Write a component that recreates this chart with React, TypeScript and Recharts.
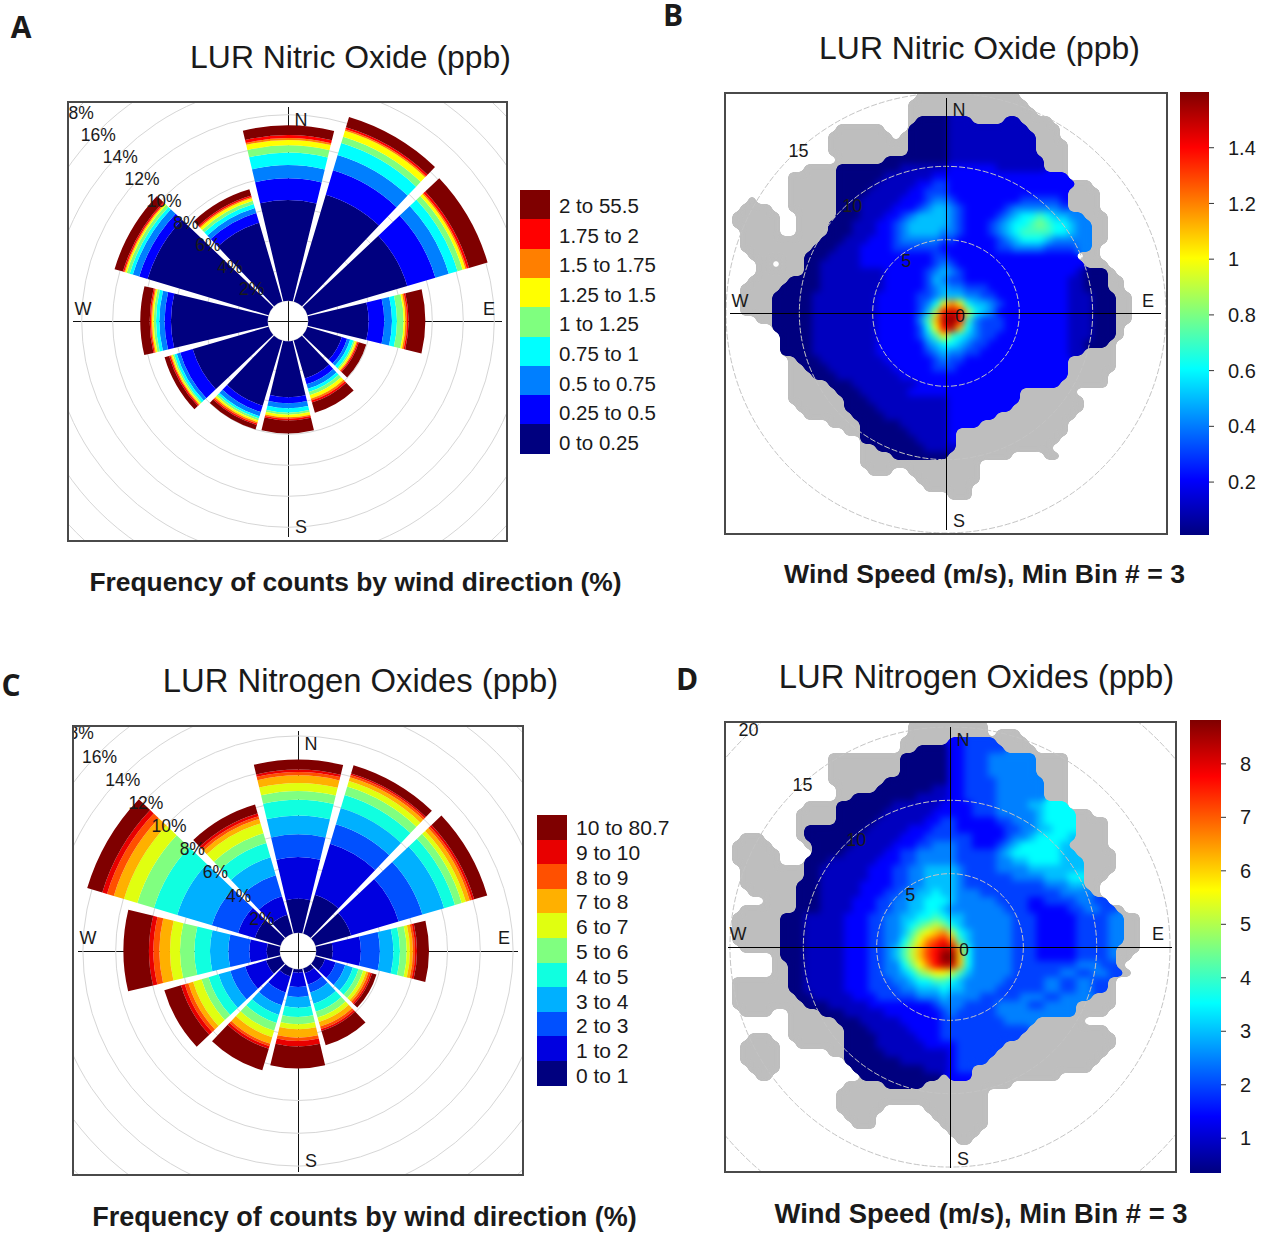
import React from 'react';
import {
  RadialBarChart, RadialBar, PolarAngleAxis, PolarRadiusAxis, PolarGrid,
  ScatterChart, Scatter, XAxis, YAxis, RadarChart, Radar, BarChart, Bar,
} from 'recharts';

const FONT = '"Liberation Sans", Arial, sans-serif';

const directions = ['N', 'NNE', 'ENE', 'E', 'ESE', 'SSE', 'S', 'SSW', 'WSW', 'W', 'WNW', 'NNW'];

// cumulative frequency (%) at the top of each concentration band, per direction
const noFreq = [
  [6.49, 7.89, 8.75, 9.55, 10.02, 10.37, 10.49, 10.69, 11.31],
  [7.2, 8.84, 9.87, 10.67, 11.1, 11.5, 11.6, 11.74, 12.43],
  [6.71, 8.6, 9.5, 10.09, 10.43, 10.62, 10.71, 10.86, 12.11],
  [3.89, 4.9, 5.4, 5.72, 6.15, 6.26, 6.37, 6.47, 7.55],
  [2.32, 2.67, 2.88, 3.1, 3.2, 3.31, 3.38, 3.46, 3.96],
  [2.56, 2.95, 3.25, 3.46, 3.68, 3.91, 4.04, 4.17, 4.86],
  [3.61, 4.0, 4.32, 4.6, 4.73, 4.9, 4.99, 5.1, 5.94],
  [4.39, 4.82, 5.1, 5.25, 5.38, 5.5, 5.6, 5.7, 6.0],
  [5.1, 5.94, 6.17, 6.34, 6.45, 6.54, 6.6, 6.69, 6.99],
  [6.24, 6.65, 6.99, 7.2, 7.35, 7.46, 7.53, 7.61, 8.22],
  [8.15, 8.71, 9.14, 9.35, 9.55, 9.66, 9.72, 9.81, 10.37],
  [5.29, 5.96, 6.28, 6.56, 6.77, 6.95, 7.03, 7.12, 7.55],
];
const noBands = ['0 to 0.25', '0.25 to 0.5', '0.5 to 0.75', '0.75 to 1', '1 to 1.25', '1.25 to 1.5', '1.5 to 1.75', '1.75 to 2', '2 to 55.5'];
const noColours = ['#00007F', '#0000FF', '#007FFF', '#00FFFF', '#7FFF7F', '#FFFF00', '#FF7F00', '#FF0000', '#7F0000'];

const noxFreq = [
  [2.07, 4.61, 6.0, 7.15, 8.11, 8.64, 9.13, 9.59, 9.8, 9.94, 10.55],
  [2.46, 5.71, 6.95, 7.99, 8.82, 9.35, 9.7, 9.94, 10.08, 10.18, 10.71],
  [2.26, 5.28, 6.79, 8.17, 8.86, 9.29, 9.55, 9.8, 9.94, 10.08, 10.91],
  [1.0, 2.72, 3.88, 4.7, 5.1, 5.51, 5.71, 5.89, 6.02, 6.14, 6.87],
  [0.61, 1.28, 1.89, 2.38, 2.74, 3.03, 3.23, 3.37, 3.5, 3.6, 3.88],
  [0.3, 1.02, 1.52, 2.24, 2.74, 3.11, 3.39, 3.68, 3.84, 3.96, 4.88],
  [0.2, 1.08, 1.69, 2.34, 2.91, 3.35, 3.66, 4.17, 4.37, 4.7, 6.05],
  [0.51, 1.52, 2.34, 2.95, 3.46, 3.96, 4.37, 4.78, 4.94, 5.1, 6.48],
  [0.91, 2.24, 3.19, 3.94, 4.57, 5.02, 5.55, 5.85, 6.08, 6.32, 7.38],
  [0.79, 1.85, 3.13, 4.25, 5.2, 6.08, 6.69, 7.34, 7.7, 7.97, 9.53],
  [1.63, 2.7, 4.37, 6.57, 8.05, 9.11, 9.96, 10.61, 11.04, 11.34, 12.3],
  [1.18, 2.36, 3.7, 4.84, 5.75, 6.36, 6.99, 7.28, 7.44, 7.62, 8.19],
];
const noxBands = ['0 to 1', '1 to 2', '2 to 3', '3 to 4', '4 to 5', '5 to 6', '6 to 7', '7 to 8', '8 to 9', '9 to 10', '10 to 80.7'];
const noxColours = ['#00007F', '#0000E0', '#0050FF', '#00B0FF', '#10FFE0', '#80FF80', '#E0FF10', '#FFB000', '#FF5000', '#E80000', '#7F0000'];

// polar plot levels, one run-length row per 8px of plot: '.' no data, '#' too few counts, a-q = rising concentration
const jetLevels = ['#00007F', '#0000BF', '#0000FF', '#0040FF', '#0080FF', '#00BFFF', '#00FFFF', '#40FFBF', '#7FFF7F', '#BFFF40', '#FFFF00', '#FFBF00', '#FF7F00', '#FF4000', '#FF0000', '#BF0000', '#7F0000'];
const jetStops = ['#7F0000', '#FF0000', '#FF7F00', '#FFFF00', '#7FFF7F', '#00FFFF', '#007FFF', '#0000FF', '#00007F'];

const noGrid = [
  '24. 13#', '23. 15#', '23. 16#',
  '23. 1# 4a 3b 4# 2b 4#',
  '14. 6# 3. 5a 10b 4#',
  '13. 8# 1. 1# 5a 11b 3#',
  '13. 10# 5a 11b 4#',
  '13. 10# 5a 11b 4#',
  '14. 6# 8a 12b 3#',
  '10. 4# 8a 6b 6c 6b 3#',
  '8. 6# 6a 6b 17c',
  '8. 6# 5a 5b 2c 2d 16c 2#',
  '8. 6# 4a 5b 2c 3d 15c 4#',
  '3. 1# 4. 6# 3a 5b 3c 1d 2e 1d 8c 5d 1c 4#',
  '2. 4# 2. 6# 3a 4b 3c 1d 1e 2f 1e 1d 5c 1d 6e 1d 4#',
  '1. 6# 2. 5# 3a 3b 2c 1d 1e 1f 2f 1f 1e 1d 4c 1d 1e 1f 1g 1g 1h 1g 1f 1f 1e 1e 3#',
  '1. 6# 2. 4# 3a 3b 2c 1d 1e 5f 1e 1d 3c 1d 1e 1f 1g 1g 1h 1i 1h 1g 1g 1f 1e 1e 2#',
  '2. 5# 2. 4# 3a 3b 2c 1d 1e 4f 1e 1e 1d 3c 1d 1e 1f 1g 4h 1g 1g 1f 1e 1e 2#',
  '2. 10# 3a 3b 3c 1d 5e 2d 1c 4c 1d 1e 1f 1g 2g 1f 5e 2#',
  '2. 9# 3a 3b 4c 6d 2c 5c 2d 4e 2d 2d 2e 1#',
  '3. 7# 3a 4b 9c 2d 1c 15c 1. 2#',
  '4. 2# 1. 3# 2a 5b 9c 1d 1e 1d 16c 3#',
  '4. 6# 2a 8b 5c 1d 1e 1f 1e 1d 14c 1b 3a 1#',
  '3. 5# 4a 8b 5c 1d 1f 1e 2d 13c 2b 3a 2#',
  '2. 5# 5a 8b 5c 1d 1e 1f 2e 3d 10c 2b 3a 2#',
  '2. 4# 5a 8b 5c 2d 1e 3f 2e 2d 9c 3b 3a 2#',
  '2. 4# 5a 8b 5c 1d 1e 1g 1k 1m 1k 1g 2f 1e 1d 8c 3b 3a 2#',
  '2. 4# 5a 8b 5c 1d 1f 1j 1o 1p 1o 1j 1g 1f 1e 9c 3b 3a 2#',
  '4. 2# 5a 8b 5c 1e 1h 1l 1p 1q 1o 1h 1e 3d 8c 3b 3a 2#',
  '6. 5a 8b 5c 1d 1g 1k 1o 1p 1l 1g 1e 3d 8c 3b 3a 1#',
  '7. 4a 8b 5c 1d 1f 1h 1k 1h 1g 1f 1e 2d 9c 3b 3a 1#',
  '7. 4a 8b 5c 1c 1e 1f 1g 1g 1f 1e 2d 10c 2b 3a 1#',
  '7. 4a 8b 6c 1d 1e 1f 2e 2d 11c 2b 4#',
  '8. 1# 3a 8b 6c 1d 1e 2d 13c 6#',
  '8. 2# 3a 8b 5c 3d 14c 6#',
  '8. 3# 3a 8b 21c 5#',
  '8. 5# 3a 8b 18c 6#',
  '8. 6# 3a 6b 14c 7#',
  '8. 7# 3a 10b 9c 8#',
  '9. 6# 4a 9b 8c 9#',
  '10. 6# 4a 8b 6c 10#',
  '13. 4# 5a 6b 4c 11#',
  '15. 2# 6a 5b 1c 14#',
  '17. 7a 4b 1c 13#',
  '17. 2# 6a 4b 12#',
  '17. 4# 7a 8# 4. 2#',
  '17. 15#',
  '18. 3# 2. 9#',
  '24. 8#',
  '25. 6#',
  '28. 3#',
];

const noxGrid = [
  '23. 10#',
  '23. 10# 1. 3#',
  '22. 6# 2c 4d 4#',
  '22. 2# 4a 2c 5d 4#',
  '13. 9# 6a 2c 3d 6e 4#',
  '13. 9# 6a 2c 3d 6e 4#',
  '13. 9# 6a 2c 3d 6e 4#',
  '13. 7# 8a 2c 4d 6e 3#',
  '14. 5# 7a 2b 2c 4d 6e 3#',
  '14. 2# 8a 4b 2c 4d 6e 3#',
  '10. 4# 7a 6b 4c 3d 4e 2f 3g',
  '9. 5# 6a 6b 5c 3d 5e 1f 4g 2#',
  '9. 5# 5a 6b 2c 2d 5c 2d 3e 1f 4g 4#',
  '9. 1# 8a 5b 3c 3d 6c 2d 2e 2f 3g 4#',
  '2. 3# 4. 1# 7a 5b 3c 6d 4c 1d 2e 1f 4g 1f 4#',
  '1. 5# 4. 1# 5a 5b 3c 2d 3e 2d 3c 1d 1e 1f 5g 1f 5#',
  '1. 6# 4. 4a 5b 2c 2d 5e 5d 1e 1f 6g 2f 5#',
  '1. 6# 3. 3a 6b 3c 2d 5e 5d 2e 2f 4g 3f 4#',
  '2. 8# 2a 6b 3c 2d 2e 4f 1e 4d 4e 4f 3f 4#',
  '2. 8# 2a 6b 3c 2d 2e 4f 1e 6d 4e 3f 2g 3#',
  '2. 7# 3a 5b 4c 2d 2e 4f 1e 10d 3e 2f 2#',
  '3. 6# 3a 5b 3c 2d 2e 2f 1g 2f 3e 10d 2e 2e 1#',
  '5. 4# 3a 4b 3c 2d 2e 2f 3g 1f 5e 4d 2c 4d 2e 2d',
  '2. 7# 3a 4b 3c 2d 2e 2f 2g 1f 7e 3d 5c 2d 2e 2d 1#',
  '1. 6# 3a 5b 3c 2d 2e 2f 2g 1h 1g 2f 6e 3d 5c 4d 2e 2#',
  '1. 6# 3a 5b 3c 2d 2e 1f 1g 1h 1i 1j 1i 1g 1f 6e 3d 5c 4d 2e 2#',
  '1. 6# 3a 5b 3c 2d 2e 1f 1h 1j 1k 1l 1m 1j 1g 1f 5e 3d 5c 4d 2e 2#',
  '1. 6# 3a 5b 3c 2d 2e 1g 1i 1k 1m 1n 1o 1m 1h 1f 5e 3d 5c 4d 2e 2#',
  '2. 5# 3a 5b 3c 2d 1e 1f 1h 1j 1l 1n 1o 1p 1p 1l 1g 5e 3d 5c 4d 1e 3#',
  '6. 1# 3a 5b 3c 2d 1e 1f 1h 1j 1l 1n 1o 1q 1q 1l 1g 5e 3d 5c 4d 1e 2#',
  '6. 2# 2a 5b 3c 2d 2e 1g 1i 1k 1m 1o 1p 1p 1l 1g 5e 8d 3e 2d 1#',
  '6. 2# 2a 5b 3c 2d 2e 1f 1g 1i 1j 2k 1j 1h 1f 5e 6d 2e 2d 2e 2d 1#',
  '1. 7# 2a 5b 3c 3d 2e 1f 2g 2h 1g 1f 5e 5d 2e 2d 2e 2d 1#',
  '1. 7# 2a 5b 3c 4d 2e 3f 1g 2f 4e 6d 2e 2d 2e 2d 1#',
  '1. 8# 2a 5b 3c 5d 3e 1f 4e 5d 3e 2d 4e 3#',
  '1. 9# 3a 5b 8c 1d 3e 4d 4e 2d 4e 5#',
  '2. 4# 2. 4# 3a 5b 7c 1d 1e 5d 10e 4#',
  '8. 6# 3a 5b 5c 8d 4e 6#',
  '8. 7# 3a 5b 4c 11d 10#',
  '3. 3# 2. 7# 4a 5b 3c 10d 12#',
  '2. 5# 2. 6# 4a 6b 4c 6d 14#',
  '2. 5# 6. 2# 5a 8b 1c 5d 14#',
  '2. 5# 8. 7a 6b 1c 4d 14#',
  '3. 4# 9. 9a 3b 1c 2d 15#',
  '4. 2# 11. 10a 1# 3c 11#',
  '15. 5# 5a 11#',
  '14. 19#',
  '14. 19#',
  '14. 6# 5. 8#',
  '15. 4# 7. 7#',
  '16. 3# 8. 6#',
  '28. 4#',
  '29. 2#',
];

const noBarTicks = [0.2, 0.4, 0.6, 0.8, 1, 1.2, 1.4];
const noBarRange: [number, number] = [0.01, 1.6];
const noxBarTicks = [1, 2, 3, 4, 5, 6, 7, 8];
const noxBarRange: [number, number] = [0.35, 8.82];
const ringSpokes = [{ a: 'N', v: 0 }, { a: 'E', v: 0 }, { a: 'S', v: 0 }, { a: 'W', v: 0 }];

const roseTable = (freq: number[][]) =>
  directions.map((dir, d) => {
    const row: Record<string, number | string> = { dir };
    freq[d].forEach((top, i) => {
      row[`b${i}`] = top - (i ? freq[d][i - 1] : 0);
    });
    return row;
  });

const gridCells = (rows: string[]) => {
  const cells: { x: number; y: number; level: string }[] = [];
  rows.forEach((row, r) => {
    let col = 0;
    for (const m of row.matchAll(/(\d+)(\D)/g)) {
      for (let n = 0; n < Number(m[1]); n++, col++) {
        if (m[2] !== '.') cells.push({ x: col + 0.5, y: r + 0.5, level: m[2] });
      }
    }
  });
  return cells;
};

const Txt = ({ x, y, size, bold, font, children }: any) => (
  <div style={{
    position: 'absolute', left: x, top: y, transform: 'translate(-50%,-50%)', fontSize: size,
    fontFamily: font || FONT, fontWeight: bold ? 700 : 400, color: '#1a1a1a', whiteSpace: 'nowrap', lineHeight: 1,
  }}>{children}</div>
);

const Cross = ({ x1, x2, y1, y2, cx, cy, colour }: any) => (
  <>
    <div style={{ position: 'absolute', left: x1, top: cy - 0.5, width: x2 - x1, height: 1.4, background: colour }} />
    <div style={{ position: 'absolute', left: cx - 0.5, top: y1, width: 1.4, height: y2 - y1, background: colour }} />
  </>
);

const Compass = ({ n, e, s, w, size }: any) => (
  <>
    <Txt x={n[0]} y={n[1]} size={size}>N</Txt>
    <Txt x={e[0]} y={e[1]} size={size}>E</Txt>
    <Txt x={s[0]} y={s[1]} size={size}>S</Txt>
    <Txt x={w[0]} y={w[1]} size={size}>W</Txt>
  </>
);

const Frame = ({ left, top, width, height }: any) => (
  <div style={{ position: 'absolute', left, top, width, height, border: '2px solid #4a4a4a', boxSizing: 'border-box', pointerEvents: 'none' }} />
);

const percentTick = ({ x, y, payload }: any) =>
  payload.value === 0 ? <g /> : (
    <text x={x} y={y + 10} textAnchor="middle" fontSize={17.5} fontFamily={FONT} fill="#1a1a1a">{`${payload.value}%`}</text>
  );

const Rose = ({ left, top, width, height, cx, cy, inner, outer, freq, colours }: any) => {
  const table = roseTable(freq);
  const polar = { width, height, cx, cy, innerRadius: inner, outerRadius: outer, layout: 'centric' as const, startAngle: 75, endAngle: -285, barCategoryGap: '4.5%', margin: { top: 0, right: 0, bottom: 0, left: 0 } };
  return (
    <div style={{ position: 'absolute', left, top, width, height }}>
      <RadialBarChart {...polar} data={table}>
        <PolarGrid gridType="circle" radialLines={false} stroke="#d6d6d6" />
        <PolarAngleAxis type="category" dataKey="dir" tick={false} axisLine={false} tickLine={false} />
        <PolarRadiusAxis type="number" angle={135} domain={[0, 18]} tickCount={10} axisLine={false} tickLine={false} tick={false} />
        {colours.map((c: string, i: number) => (
          <RadialBar key={c + i} dataKey={`b${i}`} stackId="rose" fill={c} isAnimationActive={false} />
        ))}
      </RadialBarChart>
      {/* percent labels sit above the wedges */}
      <div style={{ position: 'absolute', left: 0, top: 0 }}>
        <RadialBarChart {...polar} data={table}>
          <PolarAngleAxis type="category" dataKey="dir" tick={false} axisLine={false} tickLine={false} />
          <PolarRadiusAxis type="number" angle={135} domain={[0, 18]} tickCount={10} axisLine={false} tickLine={false} tick={percentTick} />
          <RadialBar dataKey="b0" fill="none" isAnimationActive={false} />
        </RadialBarChart>
      </div>
    </div>
  );
};

const speedTick = ({ x, y, payload }: any) => (
  <text x={x + 12 - 0.4 * (payload.value - 5)} y={y + 6 - 0.67 * (payload.value - 5)} textAnchor="middle" fontSize={18} fontFamily={FONT} fill="#1a1a1a">{payload.value}</text>
);

const HeatCell = ({ cx, cy, payload }: any) => (
  <rect x={cx - 4} y={cy - 4} width={8} height={8} fill={jetLevels[payload.level.charCodeAt(0) - 97]} />
);
const GreyCell = ({ cx, cy }: any) => <rect x={cx - 4} y={cy - 4} width={8} height={8} fill="#BEBEBE" />;

const GOO = '1 0 0 0 0  0 1 0 0 0  0 0 1 0 0  0 0 0 16 -7.5';

const Polar = ({ id, left, top, width, height, cx, cy, rows, maxSpeed, outer }: any) => {
  const cells = gridCells(rows);
  return (
    <div style={{ position: 'absolute', left, top, width, height }}>
      <style>{`.${id} { filter: url(#${id}); } .${id}Grey { filter: url(#${id}Grey); }`}</style>
      <ScatterChart width={width} height={height} margin={{ top: 0, right: 0, bottom: 0, left: 0 }}>
        <defs>
          <filter id={id} filterUnits="userSpaceOnUse" x={0} y={0} width={width} height={height} colorInterpolationFilters="sRGB">
            <feGaussianBlur stdDeviation={3.6} />
            <feColorMatrix type="matrix" values={GOO} />
          </filter>
          <filter id={`${id}Grey`} filterUnits="userSpaceOnUse" x={0} y={0} width={width} height={height} colorInterpolationFilters="sRGB">
            <feGaussianBlur stdDeviation={3} />
            <feColorMatrix type="matrix" values={GOO} />
          </filter>
        </defs>
        <XAxis type="number" dataKey="x" domain={[0, width / 8]} hide />
        <YAxis type="number" dataKey="y" domain={[0, height / 8]} reversed hide />
        <Scatter className={`${id}Grey`} data={cells} shape={GreyCell} isAnimationActive={false} />
        <Scatter className={id} data={cells.filter((c) => c.level !== '#')} shape={HeatCell} isAnimationActive={false} />
      </ScatterChart>
      <div style={{ position: 'absolute', left: 0, top: 0 }}>
        <RadarChart width={width} height={height} cx={cx} cy={cy} outerRadius={outer} data={ringSpokes}>
          <PolarGrid gridType="circle" radialLines={false} stroke="#c4c4c4" strokeDasharray="6 2" />
          <PolarAngleAxis dataKey="a" tick={false} axisLine={false} tickLine={false} />
          <PolarRadiusAxis type="number" angle={135} domain={[0, maxSpeed]} tickCount={maxSpeed / 5 + 1} axisLine={false} tickLine={false} tick={speedTick} />
          <Radar dataKey="v" stroke="none" fill="none" isAnimationActive={false} />
        </RadarChart>
      </div>
    </div>
  );
};

const ColourBar = ({ left, top, height, id, ticks, range, barWidth }: any) => (
  <div style={{ position: 'absolute', left, top }}>
    <BarChart width={barWidth + 62} height={height} data={[{ k: 'v', range }]} barCategoryGap={0} margin={{ top: 0, right: 0, bottom: 0, left: 0 }}>
      <defs>
        <linearGradient id={id} x1="0" y1="0" x2="0" y2="1">
          {jetStops.map((c, i) => <stop key={c} offset={i / (jetStops.length - 1)} stopColor={c} />)}
        </linearGradient>
      </defs>
      <XAxis dataKey="k" hide />
      <YAxis
        orientation="right" type="number" domain={range} ticks={ticks} width={62} allowDataOverflow
        axisLine={false} tickSize={5} tickMargin={14} stroke="#333"
        tick={{ fontSize: 20, fontFamily: FONT, fill: '#1a1a1a', textAnchor: 'start' }}
      />
      <Bar dataKey="range" fill={`url(#${id})`} isAnimationActive={false} />
    </BarChart>
  </div>
);

const Key = ({ left, top, width, rowH, textH, bands, colours, labelX, size }: any) => (
  <>
    {[...bands].reverse().map((b: string, i: number) => (
      <React.Fragment key={b}>
        <div style={{ position: 'absolute', left, top: top + i * rowH, width, height: rowH + 0.5, background: [...colours].reverse()[i] }} />
        <div style={{
          position: 'absolute', left: labelX, top: top + 1 + i * textH, height: rowH, lineHeight: `${rowH}px`,
          fontSize: size, fontFamily: FONT, color: '#1a1a1a', whiteSpace: 'nowrap',
        }}>{b}</div>
      </React.Fragment>
    ))}
  </>
);

export default function App() {
  return (
    <div style={{ position: 'absolute', left: 0, top: 0, width: 1265, height: 1235, overflow: 'hidden', background: '#fff' }}>
      <Txt x={21} y={27} size={30} bold font='"Open Sans", sans-serif'>A</Txt>
      <Txt x={673} y={15} size={30} bold font='"Open Sans", sans-serif'>B</Txt>
      <Txt x={11} y={685} size={30} bold font='"Open Sans", sans-serif'>C</Txt>
      <Txt x={687} y={679} size={30} bold font='"Open Sans", sans-serif'>D</Txt>

      <Txt x={350.5} y={58} size={31.9}>LUR Nitric Oxide (ppb)</Txt>
      <Txt x={979.5} y={49} size={31.9}>LUR Nitric Oxide (ppb)</Txt>
      <Txt x={360.5} y={681} size={32.8}>LUR Nitrogen Oxides (ppb)</Txt>
      <Txt x={976.5} y={677} size={32.8}>LUR Nitrogen Oxides (ppb)</Txt>

      <Txt x={355.5} y={582} size={26.4} bold>Frequency of counts by wind direction (%)</Txt>
      <Txt x={984.5} y={574} size={26.6} bold>Wind Speed (m/s), Min Bin # = 3</Txt>
      <Txt x={364.5} y={1217} size={27} bold>Frequency of counts by wind direction (%)</Txt>
      <Txt x={981} y={1214} size={27.4} bold>Wind Speed (m/s), Min Bin # = 3</Txt>

      <Cross x1={73} x2={502} y1={107} y2={537} cx={288} cy={321} colour="#111" />
      <Rose left={67} top={101} width={441} height={441} cx={221} cy={220} inner={20.3} outer={299.3} freq={noFreq} colours={noColours} />
      <Compass n={[301, 120]} e={[489, 309]} s={[301, 527]} w={[83, 309]} size={18} />
      <Frame left={67} top={101} width={441} height={441} />
      <Key left={520} top={190} width={30} rowH={29.3} textH={29.6} bands={noBands} colours={noColours} labelX={559} size={20.5} />

      <Polar id="heatNo" left={724} top={92} width={444} height={443} cx={222} cy={221} rows={noGrid} maxSpeed={15} outer={220} />
      <Cross x1={730} x2={1161} y1={98} y2={530} cx={946} cy={313} colour="#000" />
      <Compass n={[959, 110]} e={[1148, 301]} s={[959, 521]} w={[740, 301]} size={18} />
      <Frame left={724} top={92} width={444} height={443} />
      <ColourBar left={1180} top={92} height={443} id="jetNo" ticks={noBarTicks} range={noBarRange} barWidth={29} />

      <Cross x1={78} x2={518} y1={731} y2={1172} cx={298} cy={951} colour="#111" />
      <Rose left={72} top={725} width={452} height={451} cx={226} cy={226} inner={18.3} outer={313.5} freq={noxFreq} colours={noxColours} />
      <Compass n={[311, 744]} e={[504, 938]} s={[311, 1161]} w={[88, 938]} size={18} />
      <Frame left={72} top={725} width={452} height={451} />
      <Key left={537} top={815} width={30} rowH={24.6} textH={24.8} bands={noxBands} colours={noxColours} labelX={576} size={21} />

      <Polar id="heatNox" left={724} top={721} width={453} height={452} cx={226} cy={226} rows={noxGrid} maxSpeed={20} outer={293.4} />
      <Cross x1={728} x2={1172} y1={727} y2={1168} cx={950} cy={947} colour="#000" />
      <Compass n={[963, 740]} e={[1158, 934]} s={[963, 1159]} w={[738, 934]} size={18} />
      <Frame left={724} top={721} width={453} height={452} />
      <ColourBar left={1190} top={720} height={453} id="jetNox" ticks={noxBarTicks} range={noxBarRange} barWidth={31} />
    </div>
  );
}
